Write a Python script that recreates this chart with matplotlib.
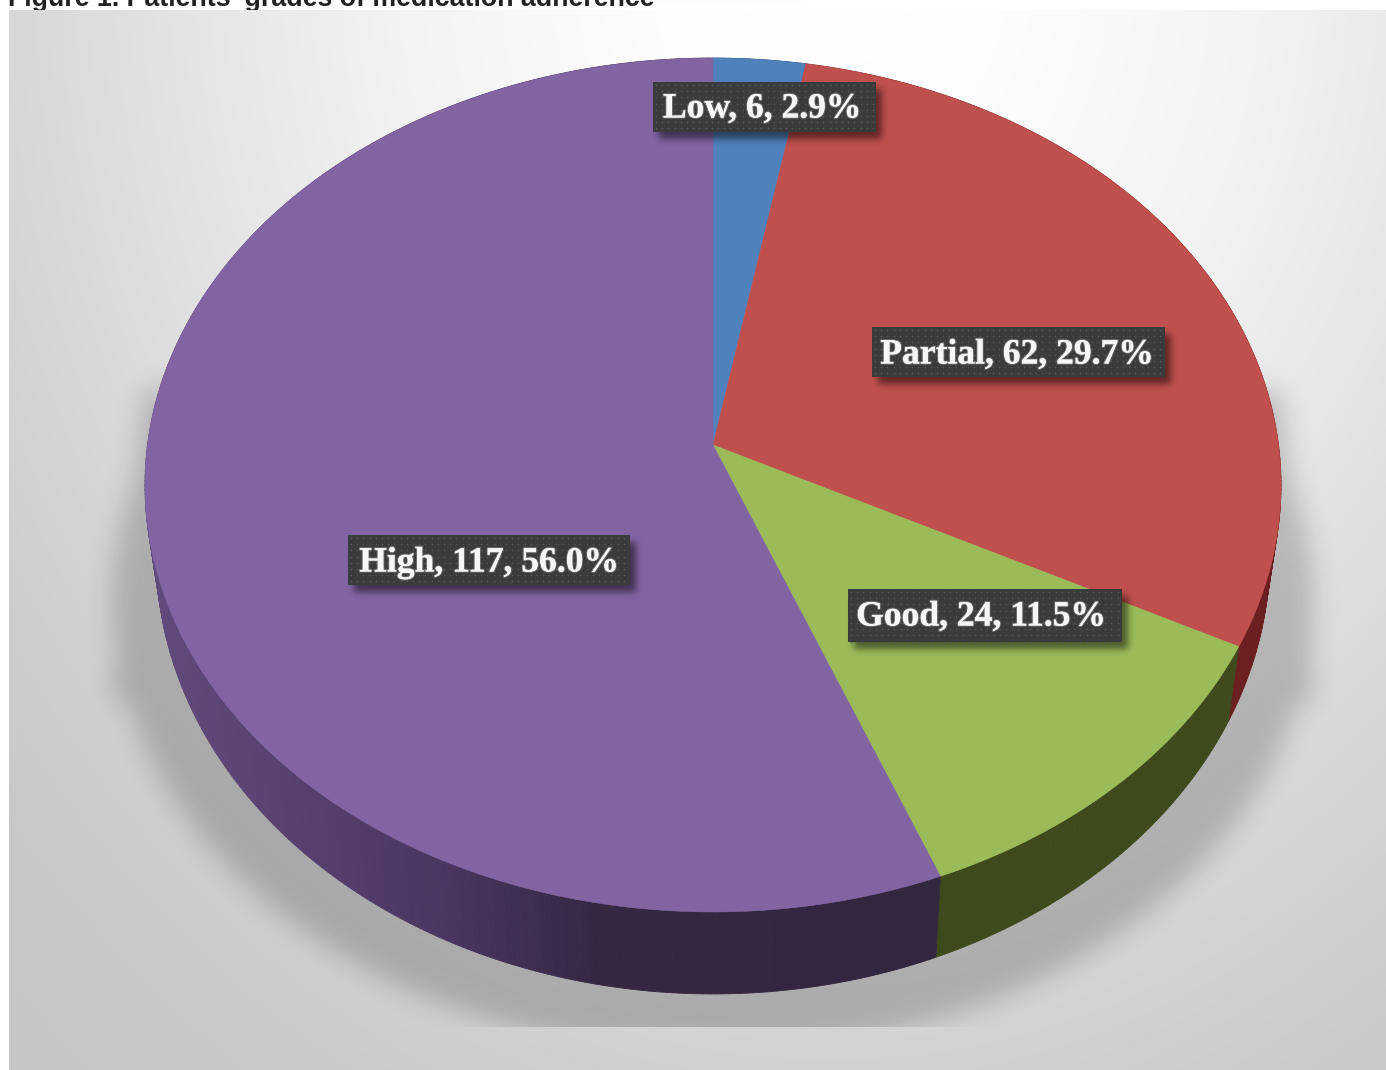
import numpy as np
import matplotlib
matplotlib.use("Agg")
import matplotlib.pyplot as plt
from matplotlib.patches import Rectangle
import matplotlib.patheffects as pe

# Adherence grades, clockwise from twelve o'clock
grades = ["Low", "Partial", "Good", "High"]
patients = [6, 62, 24, 117]
title = "Figure 1. Patients' grades of medication adherence"

# Appearance of each slice and its data label
top_colors = ["#4f81bd", "#c0504d", "#9bbb59", "#8364a3"]
wall_colors = ["#2a4466", "#6b1f20", "#3f4a1c", "#33263f"]
label_boxes = [(653, 82, 876, 132), (872, 327, 1165, 377), (848, 589, 1122, 642), (348, 535, 630, 585)]
label_centres = [(762, 109), (1017, 355), (981, 617), (489, 563)]

W, H = 1386, 1070
fig = plt.figure(figsize=(W / 100, H / 100), dpi=100, facecolor="white")
ax = fig.add_axes([0, 0, 1, 1])
ax.set_xlim(0, W)
ax.set_ylim(H, 0)
ax.axis("off")


def gaussian(a, sigma):
    """Gaussian blur through the frequency domain."""
    fy = np.fft.fftfreq(a.shape[0])[:, None]
    fx = np.fft.rfftfreq(a.shape[1])[None, :]
    g = np.exp(-2 * (np.pi * sigma) ** 2 * (fx ** 2 + fy ** 2))
    return np.fft.irfft2(np.fft.rfft2(a) * g, s=a.shape)


yy, xx = np.mgrid[0:H, 0:W] + 0.5

ax.text(8, 6, title, family="Liberation Sans", weight="bold", fontsize=19.3,
        color="#222222", va="baseline", ha="left", zorder=0)

# Backdrop: elliptical grey gradient, bright near the top
r = np.hypot((xx - 830) / 900, (yy + 40) / 1100)
grey = np.interp(r, [0, .2, .48, .69, .9, 1.0, 1.2, 1.4],
                 [255, 253, 243, 230, 216, 210, 200, 198]) / 255
bg = np.dstack([grey, grey, grey, ((xx >= 9) & (yy >= 10)).astype(float)])
ax.imshow(bg, extent=(0, W, H, 0), zorder=1, aspect="auto", interpolation="bilinear")

# Cast shadow: ellipse under the disc plus the two side wedges, cut at the floor line
shadow = (((xx - 713) / 600) ** 2 + ((yy - 600) / 452) ** 2 <= 1).astype(float)
t = np.clip((yy - 390) / (700 - 390), 0, 1)
wedge = (np.abs(xx - 713) <= 568 + 33 * t) & (yy >= 390) & (yy <= 700)
shadow = np.maximum(shadow, wedge.astype(float))
shadow = gaussian(shadow, 13)
shadow[yy > 1026.5] = 0
shadow_rgba = np.dstack([np.zeros_like(shadow)] * 3 + [shadow * 0.19])
ax.imshow(shadow_rgba, extent=(0, W, H, 0), zorder=2, aspect="auto", interpolation="bilinear")


def disc(theta):
    """Perspective projection of a unit-circle angle (clockwise from north)."""
    u, v = np.sin(theta), np.cos(theta)
    w = 1 + 0.0937 * v
    return 713 + 565.5 * u / w, 445 - 423.2 * v / w


def floor(x, y):
    """Where a rim point of the top face meets the bottom of the disc."""
    return 713 + 0.98 * (x - 713), y + 75 + (y - 648) * 0.0265


# Purple rim darkens from the left side towards the front
shade_x = [150, 300, 450, 600, 940]
shade_rgb = np.array([[0x60, 0x4a, 0x7c], [0x56, 0x40, 0x70], [0x48, 0x35, 0x60],
                      [0x35, 0x27, 0x42], [0x33, 0x26, 0x3f]]) / 255

total = sum(patients)
edges = 2 * np.pi * np.concatenate([[0], np.cumsum(patients)]) / total

# Side walls
for i, name in enumerate(grades):
    angles = np.linspace(edges[i], edges[i + 1], max(6, int(patients[i] * 3)) + 1)
    for a0, a1 in zip(angles[:-1], angles[1:]):
        x0, y0 = disc(a0)
        x1, y1 = disc(a1)
        fx0, fy0 = floor(x0, y0)
        fx1, fy1 = floor(x1, y1)
        if name == "High":
            mid = (x0 + x1) / 2
            c = [np.interp(mid, shade_x, shade_rgb[:, k]) for k in range(3)]
        else:
            c = wall_colors[i]
        ax.fill([x0, x1, fx1, fx0], [y0, y1, fy1, fy0], color=c, lw=0.6, zorder=3)

# Top faces
apex_x, apex_y = 713, 445
for i, name in enumerate(grades):
    x, y = disc(np.linspace(edges[i], edges[i + 1], 200))
    ax.fill(np.r_[apex_x, x], np.r_[apex_y, y], color=top_colors[i], lw=0.4, zorder=4)

# Data labels: dark dotted plate with a soft drop shadow
for name, n, box, centre in zip(grades, patients, label_boxes, label_centres):
    x0, y0, x1, y1 = box
    plate = ((xx >= x0 + 6) & (xx <= x1 + 6) & (yy >= y0 + 7) & (yy <= y1 + 7)).astype(float)
    soft = gaussian(plate, 3.5)
    ax.imshow(np.dstack([np.zeros_like(soft)] * 3 + [soft * 0.5]), extent=(0, W, H, 0),
              zorder=5, aspect="auto", interpolation="bilinear")
    ax.add_patch(Rectangle((x0, y0), x1 - x0, y1 - y0, fc="#3a3b3c", ec="none", zorder=6))
    dots_x, dots_y = np.meshgrid(np.arange(x0 + 3, x1, 6.2), np.arange(y0 + 3, y1, 6.2))
    ax.scatter(dots_x.ravel(), dots_y.ravel(), s=1.4, c="#56585a", linewidths=0, zorder=7)
    label = f"{name}, {n}, {100 * n / total:.1f}%"
    ax.text(centre[0], centre[1], label, family="Liberation Serif", weight="bold",
            fontsize=25.6, color="#f6f6f6", ha="center", va="center", zorder=8,
            path_effects=[pe.withStroke(linewidth=1.6, foreground=(1, 1, 1, 0.25))])

ax.set_xlim(0, W)
ax.set_ylim(H, 0)
fig.savefig("out.png", dpi=100, facecolor="white")
